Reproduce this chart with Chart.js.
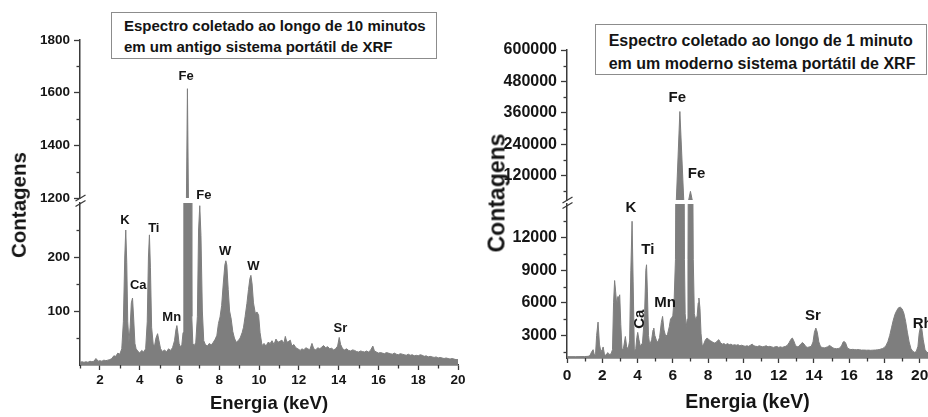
<!DOCTYPE html>
<html><head><meta charset="utf-8">
<script src="https://cdn.jsdelivr.net/npm/chart.js@4.4.1/dist/chart.umd.min.js"></script>
<style>
html,body{margin:0;padding:0;overflow:hidden;background:#fff;width:928px;height:417px;position:relative;}
canvas{position:absolute;}
.box{position:absolute;box-sizing:border-box;border:1px solid #8c8c8c;background:#fff;font-family:'Liberation Sans',Arial,sans-serif;font-weight:bold;color:#141414;white-space:nowrap;}
.ylab{position:absolute;font-family:'Liberation Sans',Arial,sans-serif;font-weight:bold;color:#141414;line-height:1;white-space:nowrap;transform:translate(-50%,-50%) rotate(-90deg);}
</style></head><body>
<canvas id="lHi" width="470" height="214" style="left:0;top:0"></canvas>
<canvas id="lLo" width="470" height="227" style="left:0;top:190px"></canvas>
<canvas id="rHi" width="470" height="216" style="left:470px;top:0"></canvas>
<canvas id="rLo" width="470" height="227" style="left:470px;top:190px"></canvas>
<div class="box" style="left:111px;top:12px;width:326px;height:47px;padding:3px 0 0 12px;font-size:15px;line-height:20.7px;">Espectro coletado ao longo de 10 minutos<br>em um antigo sistema portátil de XRF</div>
<div class="box" style="left:595px;top:24px;width:332px;height:51px;padding:3.7px 0 0 12.7px;font-size:16px;line-height:23px;">Espectro coletado ao longo de 1 minuto<br>em um moderno sistema portátil de XRF</div>
<div class="ylab" style="left:19px;top:205px;font-size:20.5px;">Contagens</div>
<div class="ylab" style="left:496.5px;top:193px;font-size:23px;">Contagens</div>
<script>
// ---------- data: left panel (old portable XRF, 10 min) ----------
const leftEnergy = [1.00,1.10,1.20,1.30,1.40,1.50,1.60,1.70,1.80,1.85,1.90,2.00,2.10,2.20,2.30,2.40,2.50,2.60,2.70,2.80,2.90,3.00,3.10,3.18,3.25,3.30,3.35,3.40,3.46,3.52,3.58,3.64,3.70,3.76,3.82,3.90,4.00,4.10,4.20,4.30,4.38,4.44,4.49,4.54,4.60,4.68,4.75,4.82,4.90,4.97,5.05,5.15,5.25,5.35,5.45,5.55,5.65,5.75,5.82,5.87,5.92,5.98,6.05,6.12,6.18,6.22,6.28,6.35,6.40,6.45,6.52,6.58,6.62,6.67,6.75,6.82,6.90,6.96,7.02,7.08,7.15,7.22,7.30,7.40,7.50,7.60,7.70,7.80,7.88,7.96,8.04,8.12,8.20,8.28,8.33,8.38,8.45,8.52,8.60,8.68,8.76,8.85,8.95,9.05,9.15,9.22,9.30,9.39,9.47,9.54,9.59,9.65,9.72,9.81,9.90,9.98,10.05,10.15,10.25,10.35,10.45,10.56,10.65,10.75,10.85,10.95,11.05,11.15,11.25,11.32,11.40,11.50,11.57,11.65,11.75,11.85,11.95,12.07,12.15,12.25,12.35,12.45,12.55,12.66,12.75,12.85,12.95,13.05,13.15,13.24,13.35,13.45,13.55,13.65,13.75,13.85,13.95,14.03,14.10,14.20,14.30,14.40,14.50,14.60,14.70,14.80,14.90,15.00,15.10,15.20,15.30,15.40,15.50,15.60,15.72,15.80,15.90,16.00,16.10,16.20,16.30,16.40,16.50,16.60,16.70,16.80,16.90,17.00,17.10,17.20,17.30,17.40,17.50,17.60,17.70,17.80,17.90,18.00,18.10,18.20,18.30,18.40,18.50,18.60,18.70,18.80,18.90,19.00,19.10,19.20,19.30,19.40,19.50,19.60,19.70,19.80,19.90,20.00];
const leftCounts = [5,6,5,6,5,7,6,7,12,10,7,8,7,9,8,9,10,12,17,16,22,20,30,80,200,250,190,80,43,70,115,124,85,40,30,26,22,27,24,30,80,200,241,180,70,38,36,50,58,45,30,25,28,24,30,27,32,45,65,73,60,40,33,38,60,340,700,1200,1615,1200,600,310,90,40,36,42,90,250,295,240,100,45,38,35,40,37,42,48,55,77,89,110,150,185,193,185,140,100,85,62,50,42,45,50,60,70,90,114,140,160,166,150,115,96,98,92,60,36,40,35,42,40,45,38,48,42,44,46,40,53,42,44,46,35,38,32,30,27,30,28,32,30,28,40,30,28,32,30,33,36,32,34,30,31,28,30,35,51,38,30,28,30,27,26,28,27,25,24,26,25,24,26,24,27,35,26,24,22,23,22,21,23,22,21,20,22,20,19,21,20,19,18,20,18,19,17,18,17,19,18,16,17,15,16,15,14,15,13,14,13,12,13,12,11,12,11,10,10];

// ---------- data: right panel (modern portable XRF, 1 min) ----------
const rightEnergy = [0.00,0.50,1.00,1.20,1.30,1.40,1.48,1.55,1.62,1.68,1.76,1.84,1.92,2.00,2.05,2.12,2.20,2.31,2.38,2.50,2.58,2.64,2.70,2.76,2.82,2.88,2.94,2.99,3.05,3.12,3.20,3.31,3.38,3.46,3.55,3.62,3.69,3.75,3.82,3.90,3.96,4.01,4.08,4.16,4.28,4.40,4.47,4.51,4.56,4.62,4.69,4.80,4.88,4.92,4.98,5.08,5.15,5.25,5.35,5.42,5.50,5.60,5.70,5.80,5.87,5.93,6.00,6.08,6.15,6.20,6.40,6.62,6.66,6.70,6.76,6.82,6.86,6.90,7.00,7.10,7.16,7.22,7.30,7.38,7.44,7.48,7.54,7.60,7.67,7.75,7.85,7.95,8.05,8.15,8.25,8.35,8.45,8.52,8.61,8.70,8.80,8.90,9.00,9.10,9.20,9.30,9.40,9.50,9.60,9.70,9.80,9.90,10.00,10.10,10.20,10.30,10.40,10.50,10.60,10.70,10.80,10.90,11.00,11.10,11.20,11.30,11.40,11.50,11.60,11.70,11.80,11.90,12.00,12.10,12.20,12.30,12.40,12.50,12.60,12.70,12.78,12.86,12.95,13.05,13.15,13.25,13.35,13.45,13.55,13.65,13.75,13.85,13.95,14.03,14.11,14.19,14.28,14.38,14.48,14.58,14.68,14.78,14.88,14.98,15.08,15.18,15.28,15.38,15.48,15.58,15.66,15.72,15.80,15.90,16.00,16.10,16.20,16.30,16.40,16.50,16.60,16.70,16.80,16.90,17.00,17.10,17.20,17.30,17.40,17.50,17.60,17.70,17.80,17.90,18.00,18.10,18.20,18.30,18.40,18.50,18.60,18.70,18.80,18.90,19.00,19.10,19.20,19.30,19.40,19.50,19.60,19.70,19.80,19.90,19.97,20.05,20.12,20.20,20.30,20.40,20.50];
const rightCounts = [1050,1050,1060,1080,1150,1500,1690,1200,1300,3000,4230,2200,1500,1700,1940,1300,1150,1420,1250,1300,1700,6000,8050,7000,5800,6580,6500,6740,4000,1700,1800,2900,2000,1700,2500,9000,13500,8000,1500,1800,2800,3280,2600,2000,2300,5000,9000,9500,7000,3000,2120,2600,3500,3680,3000,2500,2400,2800,4200,4750,3500,2900,3100,3800,4500,4630,4800,6500,10000,27000,365000,27000,10000,5000,3800,4500,10000,27000,60000,27000,10000,5000,4400,4800,6000,6440,5500,3200,2000,2200,2600,2770,2600,2500,2400,2300,2350,2500,2610,2350,2200,2250,2150,2250,2150,2200,2100,2150,2100,2150,2050,2100,2050,2000,2050,2000,2100,2200,2050,2000,1980,2050,2000,1950,2000,2050,1950,2000,1950,1900,1950,1980,1900,1950,1900,1950,2000,2100,2350,2650,2760,2500,2100,1950,2000,2200,2350,2200,1950,1900,1950,2000,2400,3300,3680,3300,2400,1950,1900,1850,1900,1950,2080,1980,1850,1800,1780,1800,1850,2100,2400,2450,2300,1850,1750,1700,1720,1700,1680,1700,1680,1650,1660,1650,1640,1650,1630,1640,1650,1660,1680,1700,1750,1800,1900,2100,2450,3000,3700,4400,4950,5300,5550,5600,5450,5050,4300,3300,2400,1800,1550,1450,1500,2000,3200,3830,3600,2600,1700,1450,1400];

// ---------- ticks ----------
const leftXTicks = [2,4,6,8,10,12,14,16,18,20];
const leftXMinor = [1,3,5,7,9,11,13,15,17,19];
const leftYTicksHigh = [1200,1400,1600,1800];
const leftYMinorHigh = [1300,1500,1700];
const leftYTicksLow = [100,200];
const leftYMinorLow = [50,150,250];
const rightXTicks = [0,2,4,6,8,10,12,14,16,18,20];
const rightXMinor = [1,3,5,7,9,11,13,15,17,19];
const rightYTicksHigh = [120000,240000,360000,480000,600000];
const rightYMinorHigh = [60000,180000,300000,420000,540000];
const rightYTicksLow = [3000,6000,9000,12000];
const rightYMinorLow = [1500,4500,7500,10500,13500];

// ---------- peak labels ----------
const leftHiLabelText = ['Fe','Fe'];
const leftHiLabelE = [6.33,7.23];
const leftHiLabelY = [1660,1208];
const leftLoLabelText = ['K','Ca','Ti','Mn','W','W','Sr'];
const leftLoLabelE = [3.26,3.93,4.71,5.61,8.29,9.71,14.09];
const leftLoLabelY = [268,147,253,89,210,182,67];
const rightHiLabelText = ['Fe','Fe'];
const rightHiLabelE = [6.25,7.35];
const rightHiLabelY = [415500,127100];
const rightLoLabelText = ['K','Ti','Ca','Mn','Sr','Rh'];
const rightLoLabelE = [3.63,4.58,4.14,5.56,13.95,20.17];
const rightLoLabelY = [14700,10860,4494,5957,4807,4053];
const rightLoLabelRot = [0,0,1,0,0,0];

Chart.defaults.font.family = "'Liberation Sans', Arial, Helvetica, sans-serif";
Chart.defaults.font.weight = 'bold';
Chart.defaults.color = '#151515';
const GRAY = '#7e7e7e';
const AXIS = '#3a3a3a';
const FONT = "'Liberation Sans', Arial, Helvetica, sans-serif";

function pts(E, C) { return E.map((e, i) => ({x: e, y: C[i]})); }

function makeDecor(o) {
  return {
    id: 'decor',
    afterDraw(chart) {
      const ctx = chart.ctx, xs = chart.scales.x, ys = chart.scales.y;
      ctx.save();
      ctx.strokeStyle = AXIS; ctx.lineWidth = 1.3;
      const ax = ys.right;
      o.yMinor.forEach(v => {
        const p = Math.round(ys.getPixelForValue(v)) + 0.5;
        ctx.beginPath(); ctx.moveTo(ax, p); ctx.lineTo(ax - 3.5, p); ctx.stroke();
      });
      if (o.showX) {
        o.xMinor.forEach(v => {
          const p = Math.round(xs.getPixelForValue(v)) + 0.5;
          ctx.beginPath(); ctx.moveTo(p, xs.top); ctx.lineTo(p, xs.top + 3.5); ctx.stroke();
        });
      }
      if (o.brk) {
        const b = ys.bottom, x = ax;
        ctx.lineWidth = 1.3;
        ctx.beginPath(); ctx.moveTo(x - 4.5, b + 3); ctx.lineTo(x + 5.5, b - 3); ctx.stroke();
        ctx.beginPath(); ctx.moveTo(x - 4.5, b + 8.5); ctx.lineTo(x + 5.5, b + 2.5); ctx.stroke();
      }
      ctx.fillStyle = '#151515';
      ctx.font = 'bold ' + o.labelSize + 'px ' + FONT;
      ctx.textAlign = 'center'; ctx.textBaseline = 'middle';
      o.lText.forEach((t, i) => {
        const px = xs.getPixelForValue(o.lE[i]);
        const py = ys.getPixelForValue(o.lY[i]);
        ctx.save();
        ctx.translate(px, py);
        if (o.lRot && o.lRot[i]) ctx.rotate(-Math.PI / 2);
        ctx.fillText(t, 0, 0);
        ctx.restore();
      });
      ctx.restore();
    }
  };
}

function makeChart(id, o) {
  return new Chart(document.getElementById(id), {
    type: 'line',
    data: { datasets: [{ data: o.points, borderColor: GRAY, backgroundColor: GRAY, borderWidth: 1,
      pointRadius: 0, fill: 'start', tension: 0, clip: 0 }] },
    options: {
      responsive: false, animation: false, events: [],
      layout: { padding: o.pad },
      plugins: { legend: {display: false}, tooltip: {enabled: false} },
      scales: {
        x: {
          type: 'linear', min: o.xMin, max: o.xMax, display: o.showX,
          afterBuildTicks: s => { s.ticks = o.xTicks.map(v => ({value: v})); },
          afterFit: s => { s.height = o.xHeight; },
          ticks: { callback: v => String(v), autoSkip: false, maxRotation: 0, minRotation: 0,
            padding: o.xTickPad, font: {size: o.xTickSize, weight: 'bold'}, color: '#151515' },
          grid: { drawOnChartArea: false, drawTicks: true, tickLength: 5, tickColor: AXIS, tickWidth: 1.3 },
          border: { display: true, color: AXIS, width: 1.5 },
          title: { display: o.showX, text: 'Energia (keV)', color: '#151515',
            font: {size: o.xTitleSize, weight: 'bold'}, padding: {top: 0, bottom: o.xTitlePad} }
        },
        y: {
          type: 'linear', min: o.yMin, max: o.yMax,
          afterBuildTicks: s => { s.ticks = o.yTicks.map(v => ({value: v})); },
          afterFit: s => { s.width = o.yWidth; },
          ticks: { callback: v => String(v), autoSkip: false, padding: 4,
            font: {size: o.yTickSize, weight: 'bold'}, color: '#151515' },
          grid: { drawOnChartArea: false, drawTicks: true, tickLength: 6, tickColor: AXIS, tickWidth: 1.3 },
          border: { display: true, color: AXIS, width: 1.5 }
        }
      }
    },
    plugins: [makeDecor(o)]
  });
}

const leftPts = pts(leftEnergy, leftCounts);
const rightPts = pts(rightEnergy, rightCounts);

makeChart('lHi', { points: leftPts, pad: {top: 40, right: 12, bottom: 16, left: 0},
  xMin: 1, xMax: 20, showX: false, xTicks: leftXTicks, xMinor: leftXMinor, xHeight: 0, xTickPad: 2, xTickSize: 13.5,
  xTitleSize: 18.5, xTitlePad: 2, yMin: 1200, yMax: 1800, yTicks: leftYTicksHigh, yMinor: leftYMinorHigh,
  yWidth: 80, yTickSize: 13.5, brk: true, labelSize: 13,
  lText: leftHiLabelText, lE: leftHiLabelE, lY: leftHiLabelY });
makeChart('lLo', { points: leftPts, pad: {top: 13, right: 12, bottom: 0, left: 0},
  xMin: 1, xMax: 20, showX: true, xTicks: leftXTicks, xMinor: leftXMinor, xHeight: 52, xTickPad: 2, xTickSize: 13.5,
  xTitleSize: 18.5, xTitlePad: 2, yMin: 0, yMax: 300, yTicks: leftYTicksLow, yMinor: leftYMinorLow,
  yWidth: 80, yTickSize: 13.5, brk: false, labelSize: 13,
  lText: leftLoLabelText, lE: leftLoLabelE, lY: leftLoLabelY });
makeChart('rHi', { points: rightPts, pad: {top: 50, right: 12, bottom: 16, left: 0},
  xMin: 0, xMax: 20.47, showX: false, xTicks: rightXTicks, xMinor: rightXMinor, xHeight: 0, xTickPad: 3.5, xTickSize: 15.5,
  xTitleSize: 19.5, xTitlePad: 2.3, yMin: 27000, yMax: 600000, yTicks: rightYTicksHigh, yMinor: rightYMinorHigh,
  yWidth: 97, yTickSize: 16, brk: true, labelSize: 15,
  lText: rightHiLabelText, lE: rightHiLabelE, lY: rightHiLabelY });
makeChart('rLo', { points: rightPts, pad: {top: 14, right: 12, bottom: 0, left: 0},
  xMin: 0, xMax: 20.47, showX: true, xTicks: rightXTicks, xMinor: rightXMinor, xHeight: 59, xTickPad: 3.5, xTickSize: 15.5,
  xTitleSize: 19.5, xTitlePad: 2.3, yMin: 925, yMax: 15091, yTicks: rightYTicksLow, yMinor: rightYMinorLow,
  yWidth: 97, yTickSize: 16, brk: false, labelSize: 15,
  lText: rightLoLabelText, lE: rightLoLabelE, lY: rightLoLabelY, lRot: rightLoLabelRot });
</script>
</body></html>
